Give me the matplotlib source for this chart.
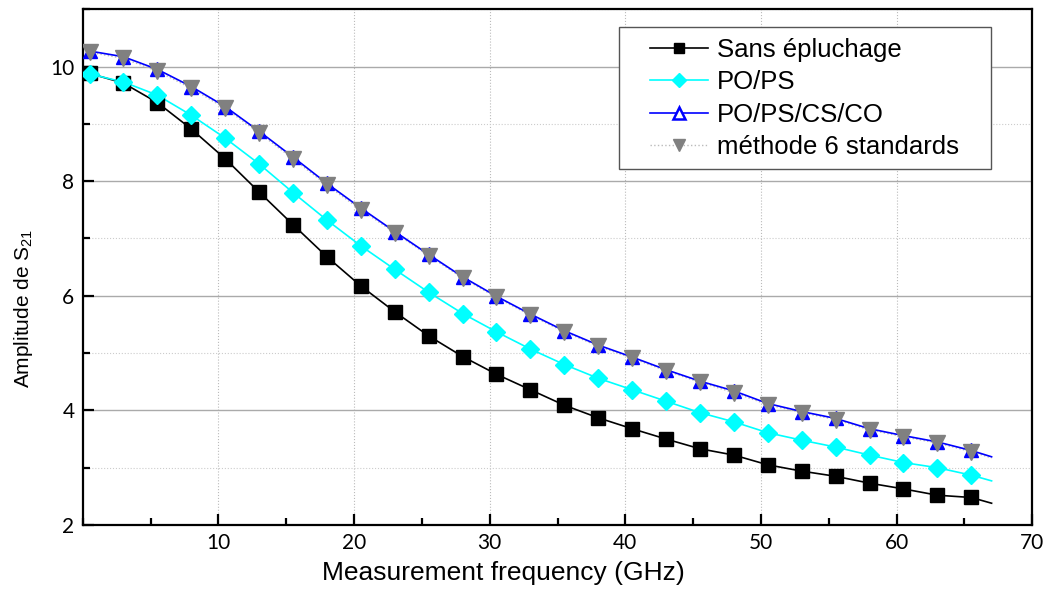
import numpy as np
import matplotlib
matplotlib.use("Agg")
import matplotlib.pyplot as plt
from matplotlib.ticker import MultipleLocator
from matplotlib.patches import Rectangle

plt.rcParams['mathtext.fontset'] = 'custom'
plt.rcParams['mathtext.rm'] = 'Liberation Sans'
plt.rcParams['mathtext.it'] = 'Liberation Sans:italic'

# marker frequencies (GHz) and the end point of the measured traces
freq = [0.5, 3, 5.5, 8, 10.5, 13, 15.5, 18, 20.5, 23, 25.5, 28, 30.5, 33, 35.5,
        38, 40.5, 43, 45.5, 48, 50.5, 53, 55.5, 58, 60.5, 63, 65.5]
freq_end = 67

sans_epluchage = [9.88, 9.71, 9.37, 8.91, 8.39, 7.81, 7.24, 6.68, 6.17, 5.72, 5.30,
                  4.94, 4.63, 4.36, 4.09, 3.87, 3.68, 3.50, 3.33, 3.22, 3.05, 2.94,
                  2.85, 2.73, 2.63, 2.52, 2.48]
sans_end = 2.38

po_ps = [9.87, 9.73, 9.50, 9.15, 8.75, 8.30, 7.80, 7.32, 6.87, 6.46, 6.06, 5.69,
         5.37, 5.07, 4.80, 4.56, 4.36, 4.16, 3.96, 3.80, 3.61, 3.48, 3.36, 3.22,
         3.09, 3.00, 2.87]
po_ps_end = 2.77

po_ps_cs_co = [10.27, 10.17, 9.95, 9.65, 9.30, 8.87, 8.42, 7.96, 7.53, 7.12, 6.72,
               6.33, 5.99, 5.68, 5.39, 5.14, 4.93, 4.71, 4.51, 4.34, 4.12, 3.98,
               3.86, 3.68, 3.56, 3.45, 3.30]
po_ps_cs_co_end = 3.19

six_std = [10.25, 10.14, 9.92, 9.62, 9.27, 8.84, 8.39, 7.93, 7.50, 7.10, 6.70,
           6.31, 5.97, 5.66, 5.37, 5.12, 4.91, 4.69, 4.49, 4.31, 4.10, 3.96,
           3.84, 3.66, 3.54, 3.43, 3.28]
six_std_end = 3.17

labels = ['Sans épluchage', 'PO/PS', 'PO/PS/CS/CO', 'méthode 6 standards']

fig = plt.figure(figsize=(10.48, 5.97), dpi=100)
ax = fig.add_axes([0.079, 0.1206, 0.906, 0.864])

fx = freq + [freq_end]
ax.plot(fx, six_std + [six_std_end], color='#bbbbbb', lw=1, ls=':', zorder=1)
ax.plot(fx, sans_epluchage + [sans_end], color='black', lw=1.2, zorder=2)
ax.plot(fx, po_ps + [po_ps_end], color='cyan', lw=1.2, zorder=2)
ax.plot(fx, po_ps_cs_co + [po_ps_cs_co_end], color='blue', lw=1.2, zorder=2)

ax.plot(freq, sans_epluchage, ls='none', marker='s', ms=10, color='black', zorder=3)
ax.plot(freq, po_ps, ls='none', marker='D', ms=9, color='cyan', zorder=3)
ax.plot(freq, po_ps_cs_co, ls='none', marker='^', ms=10, mfc='blue', mec='blue', zorder=3)
ax.plot(freq, six_std, ls='none', marker='v', ms=11, color='gray', zorder=4)

# legend proxies
h1, = ax.plot([], [], color='black', lw=1.2, marker='s', ms=6.5)
h2, = ax.plot([], [], color='cyan', lw=1.2, marker='D', ms=7)
h3, = ax.plot([], [], color='blue', lw=1.2, marker='^', ms=8, mfc='white', mec='blue', mew=1.8)
h4, = ax.plot([], [], color='#bbbbbb', lw=1, ls=':', marker='v', ms=9, mfc='gray', mec='gray')
leg = fig.legend([h1, h2, h3, h4], labels, loc='upper left',
                 bbox_to_anchor=(650 / 1048, (597 - 38) / 597), frameon=False,
                 prop={'family': 'Liberation Sans', 'size': 18.5},
                 handlelength=2.25, handletextpad=0.35, labelspacing=0.33,
                 borderpad=0, borderaxespad=0)
fig.add_artist(Rectangle((619 / 1048, (597 - 169) / 597), 372 / 1048, 142 / 597,
                         transform=fig.transFigure, facecolor='white',
                         edgecolor='#555555', lw=1, zorder=4))
leg.set_zorder(5)

ax.set_xlim(0, 70)
ax.set_ylim(2, 11)
ax.xaxis.set_minor_locator(MultipleLocator(5))
ax.yaxis.set_minor_locator(MultipleLocator(1))
ax.set_xticks([10, 20, 30, 40, 50, 60, 70])
ax.set_yticks([2, 4, 6, 8, 10])

ax.grid(which='major', axis='y', color='#aaaaaa', lw=1, ls='-')
ax.grid(which='minor', axis='y', color='#cccccc', lw=0.8, ls=':')
ax.grid(which='major', axis='x', color='#bbbbbb', lw=0.8, ls=':')
ax.set_axisbelow(True)

for s in ax.spines.values():
    s.set_linewidth(1.6)
ax.tick_params(which='major', direction='in', length=8, width=1.6,
               labelsize=15, pad=6)
ax.tick_params(which='minor', direction='in', length=5, width=1.6)
for lab in ax.get_xticklabels() + ax.get_yticklabels():
    lab.set_family('Lato')

ax.set_xlabel('Measurement frequency (GHz)', fontsize=19, family='Liberation Sans')
ax.set_ylabel('Amplitude de S$_{21}$', fontsize=15, family='Liberation Sans')
ax.xaxis.set_label_coords(0.443, -0.07)
ax.yaxis.set_label_coords(-0.05, 0.42)

fig.savefig('out.png', dpi=100)
